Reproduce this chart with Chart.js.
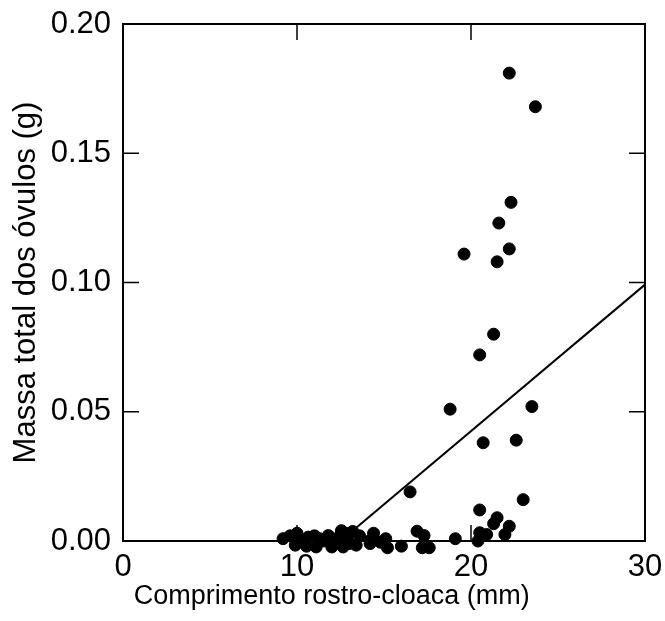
<!DOCTYPE html>
<html>
<head>
<meta charset="utf-8">
<script src="https://cdn.jsdelivr.net/npm/chart.js@4"></script>
<style>
	html, body { margin: 0; padding: 0; background: #fff; }
	#wrap { width: 665px; height: 621px; }
</style>
</head>
<body>
<div id="wrap"><canvas id="chart"></canvas></div>
<script>
// Comprimento rostro-cloaca (mm)
const crc = [
	22.2, 23.7, 22.3, 21.6, 22.2, 19.6, 21.5, 21.3, 20.5, 18.8,
	23.5, 20.7, 22.6, 16.5, 23.0, 20.5, 21.5, 21.3, 22.2, 21.95,
	20.5, 20.9, 20.4, 16.9, 17.3, 19.1, 15.1, 15.2, 16.0, 17.2,
	17.6, 14.4, 9.2, 10.0, 10.65, 11.3, 11.8, 12.55, 13.2, 14.2,
	14.8, 9.9, 10.55, 11.1, 12.0, 12.65, 13.4, 14.2, 14.95, 11.5,
	12.3, 12.9, 13.0, 10.3, 9.6, 11.0, 12.8, 13.6
];
// Massa total dos óvulos (g)
const massa = [
	0.181, 0.168, 0.131, 0.123, 0.113, 0.111, 0.108, 0.080, 0.072, 0.051,
	0.052, 0.038, 0.039, 0.019, 0.016, 0.012, 0.009, 0.0067, 0.0057, 0.0025,
	0.0032, 0.0025, 0.0, 0.0038, 0.0021, 0.0009, 0.0009, -0.0026, -0.002, -0.0026,
	-0.0026, 0.003, 0.0009, 0.003, 0.0015, 0.0009, 0.0021, 0.004, 0.0037, 0.0002,
	-0.0005, -0.0016, -0.002, -0.0023, -0.0023, -0.0023, -0.0016, -0.001, -0.0003, 0.0,
	0.001, 0.0015, -0.001, 0.0, 0.002, 0.002, 0.003, 0.002
];
// Regression line end points
const fitX = [12.5, 30];
const fitY = [0, 0.0992];
// Tick values
const xTicks = [0, 10, 20, 30];
const yTicks = [0, 0.05, 0.10, 0.15, 0.20];
const xTitle = 'Comprimento rostro-cloaca (mm)';

const FONT = '"Liberation Sans", Arial, Helvetica, sans-serif';

// Box frame with inward ticks on all four sides, plus the x title
const framePlugin = {
	id: 'frame',
	beforeDatasetsDraw(chart) {
		const { ctx, chartArea: a, scales } = chart;
		ctx.save();
		ctx.strokeStyle = '#000';
		ctx.lineWidth = 2;
		ctx.strokeRect(a.left, a.top, a.right - a.left, a.bottom - a.top);
		ctx.lineWidth = 1.5;
		const len = 16;
		ctx.beginPath();
		xTicks.forEach(v => {
			const px = scales.x.getPixelForValue(v);
			ctx.moveTo(px, a.bottom); ctx.lineTo(px, a.bottom - len);
			ctx.moveTo(px, a.top); ctx.lineTo(px, a.top + len);
		});
		yTicks.forEach(v => {
			const py = scales.y.getPixelForValue(v);
			ctx.moveTo(a.left, py); ctx.lineTo(a.left + len, py);
			ctx.moveTo(a.right, py); ctx.lineTo(a.right - len, py);
		});
		ctx.stroke();

		// x title sits left of the plot centre in the original
		ctx.fillStyle = '#000';
		ctx.font = '27px ' + FONT;
		ctx.textAlign = 'center';
		ctx.textBaseline = 'middle';
		ctx.fillText(xTitle, scales.x.getPixelForValue(12), 597);
		ctx.restore();
	}
};

const points = crc.map((x, i) => ({ x: x, y: massa[i] }));
const fit = fitX.map((x, i) => ({ x: x, y: fitY[i] }));

new Chart(document.getElementById('chart'), {
	type: 'scatter',
	data: {
		datasets: [{
			label: 'Massa',
			data: points,
			backgroundColor: '#000',
			borderColor: '#000',
			pointRadius: 6,
			pointHoverRadius: 6,
			clip: false
		}, {
			label: 'Ajuste',
			type: 'line',
			data: fit,
			showLine: true,
			borderColor: '#000',
			borderWidth: 2,
			pointRadius: 0,
			fill: false
		}]
	},
	options: {
		responsive: true,
		maintainAspectRatio: false,
		animation: false,
		layout: { padding: { top: 24, right: 20, left: 0, bottom: 0 } },
		plugins: {
			legend: { display: false },
			tooltip: { enabled: false },
			title: { display: false }
		},
		scales: {
			x: {
				type: 'linear',
				min: 0,
				max: 30,
				afterFit: s => { s.height = 80; s.paddingLeft = 0; s.paddingRight = 0; },
				afterBuildTicks: s => { s.ticks = xTicks.map(v => ({ value: v })); },
				grid: { display: false, drawTicks: false },
				border: { display: false },
				ticks: {
					color: '#000',
					padding: 8,
					maxRotation: 0,
					font: { family: FONT, size: 31 }
				}
			},
			y: {
				min: 0,
				max: 0.2,
				afterFit: s => { s.width = 123; s.paddingTop = 0; s.paddingBottom = 0; },
				afterBuildTicks: s => { s.ticks = yTicks.map(v => ({ value: v })); },
				grid: { display: false, drawTicks: false },
				border: { display: false },
				ticks: {
					color: '#000',
					padding: 12,
					font: { family: FONT, size: 31 },
					callback: v => v.toFixed(2)
				},
				title: {
					display: true,
					text: 'Massa total dos óvulos (g)',
					color: '#000',
					font: { family: FONT, size: 31 },
					padding: { top: 8, bottom: 0 }
				}
			}
		}
	},
	plugins: [framePlugin]
});
</script>
</body>
</html>
